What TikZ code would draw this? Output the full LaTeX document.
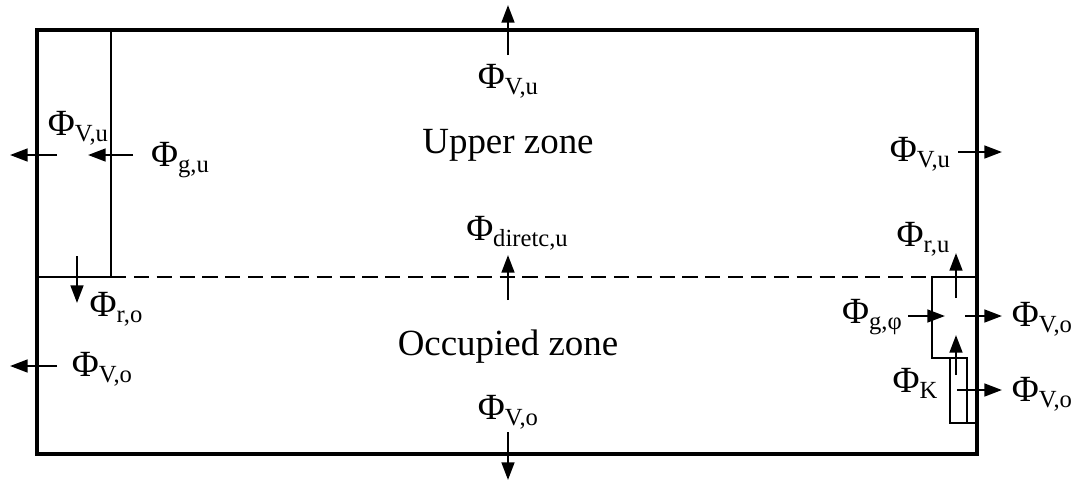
\documentclass[tikz,border=0pt]{standalone}
\usepackage{fontspec}
\setmainfont{Liberation Serif}
\usetikzlibrary{arrows.meta}
\newcommand\flx[1]{Φ\raisebox{-1.7pt}{\fontsize{7}{8}\selectfont #1}}
\tikzset{
  wall/.style={line width=1.1pt},
  part/.style={line width=0.7pt},
  flow/.style={line width=0.7pt,-{Triangle[length=5pt,width=3.6pt]}},
  lbl/.style={inner sep=0pt,font=\fontsize{10.5}{12}\selectfont},
  zone/.style={inner sep=0pt,font=\fontsize{10.5}{12}\selectfont}
}
\begin{document}
\begin{tikzpicture}[x=0.01cm,y=-0.01cm]
\useasboundingbox (0,0) rectangle (1081,484);
        % room and zones
        \draw[wall] (37,30) rectangle (977,454);
        \draw[part] (111,30) -- (111,277) -- (37,277);
        \draw[part,dash pattern=on 4.3pt off 2.2pt] (111,277) -- (932,277);
        \draw[part] (977,277) -- (932,277) -- (932,358) -- (950,358);
        \draw[part] (950,358) rectangle (967,423);
        \draw[part] (967,423) -- (977,423);
        \node[zone] (upper) at (508,145) {Upper zone};
        \node[zone] (occ) at (508,347) {Occupied zone};
        % labels
        \node[lbl] (lVu) at (78,128) {\flx{V,u}};
        \node[lbl] (lgu) at (180,160) {\flx{g,u}};
        \node[lbl] (lro) at (116,309) {\flx{r,o}};
        \node[lbl] (lVo) at (102,369) {\flx{V,o}};
        \node[lbl] (tVu) at (508,81) {\flx{V,u}};
        \node[lbl] (dir) at (517,233) {\flx{diretc,u}};
        \node[lbl] (bVo) at (508,412) {\flx{V,o}};
        \node[lbl] (rVu) at (920,154) {\flx{V,u}};
        \node[lbl] (rru) at (923,239) {\flx{r,u}};
        \node[lbl] (rgo) at (872,317) {\flx{g,φ}};
        \node[lbl] (rVa) at (1042,319) {\flx{V,o}};
        \node[lbl] (rK) at (915,383) {\flx{K}};
        \node[lbl] (rVb) at (1042,394) {\flx{V,o}};
        % flow ends
        \coordinate (t0) at (508,55);   \coordinate (t1) at (508,5);
        \coordinate (lu0) at (57,155);  \coordinate (lu1) at (10,155);
        \coordinate (gu0) at (133,155); \coordinate (gu1) at (88,155);
        \coordinate (ro0) at (77,256);  \coordinate (ro1) at (77,303);
        \coordinate (d0) at (508,300);  \coordinate (d1) at (508,255);
        \coordinate (lo0) at (57,366);  \coordinate (lo1) at (10,366);
        \coordinate (b0) at (508,432);  \coordinate (b1) at (508,480);
        \coordinate (ru0) at (958,152); \coordinate (ru1) at (1002,152);
        \coordinate (r0) at (956,298);  \coordinate (r1) at (956,253);
        \coordinate (g0) at (908,316);  \coordinate (g1) at (945,316);
        \coordinate (ro2) at (965,316); \coordinate (ro3) at (1002,316);
        \coordinate (k0) at (956,375);  \coordinate (k1) at (956,335);
        \coordinate (rk0) at (957,390); \coordinate (rk1) at (1002,390);
        \foreach \a/\b in {t0/t1,lu0/lu1,gu0/gu1,ro0/ro1,d0/d1,lo0/lo1,b0/b1,
                           ru0/ru1,r0/r1,g0/g1,ro2/ro3,k0/k1,rk0/rk1}
            \draw[flow] (\a) -- (\b);
\end{tikzpicture}
\end{document}
